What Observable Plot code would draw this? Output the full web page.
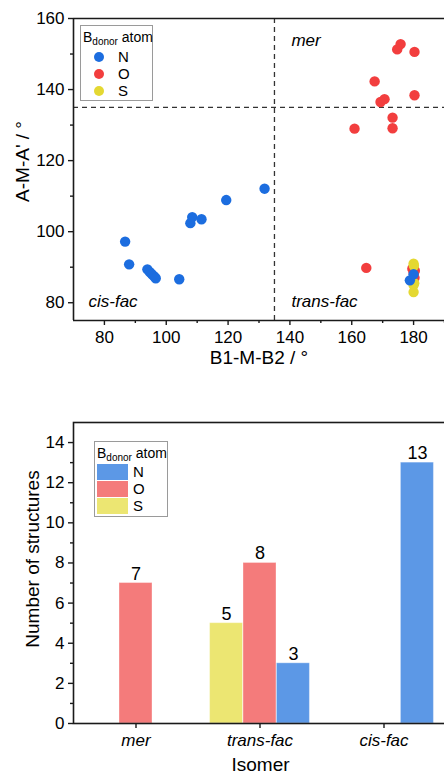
<!DOCTYPE html>
<html>
<head>
<meta charset="utf-8">
<script src="https://cdn.jsdelivr.net/npm/d3@7"></script>
<script src="https://cdn.jsdelivr.net/npm/@observablehq/plot@0.6"></script>
<style>
html, body { margin: 0; padding: 0; background: #fff; }
#wrap { position: relative; width: 444px; height: 775px; overflow: hidden; font-family: "Liberation Sans", Arial, sans-serif; color: #000; }
#wrap svg { display: block; }
.legend { position: absolute; border: 1px solid #9a9a9a; background: #fff; box-sizing: border-box; }
.legend .ttl { position: absolute; left: 2px; font-size: 14px; white-space: nowrap; line-height: 1; }
.legend .ttl sub { font-size: 10px; vertical-align: -3px; line-height: 0; }
.legend .row { position: absolute; font-size: 15px; line-height: 1; }
.legend .dot { position: absolute; width: 10px; height: 10px; border-radius: 50%; }
.legend .sw { position: absolute; }
</style>
</head>
<body>
<div id="wrap"></div>
<script>
// ---------- data ----------
const atoms = ["N", "O", "S"];
const scatterColors = ["#1c6ddf", "#f23e3e", "#e4d832"];
const barColors = ["#5c98e6", "#f47b7b", "#ece672"];

// scatter: B1-M-B2 (x) vs A-M-A' (y), per donor atom
const nX = [86.7, 88.0, 93.9, 94.7, 95.4, 96.1, 96.6, 104.2, 107.8, 108.4, 111.4, 119.4, 131.8, 178.8, 180.0];
const nY = [97.2, 90.8, 89.4, 88.6, 88.0, 87.4, 86.9, 86.6, 102.4, 104.1, 103.5, 108.9, 112.1, 86.3, 88.0];
const oX = [175.8, 174.7, 180.3, 167.4, 180.3, 170.6, 169.3, 173.2, 160.9, 173.2, 164.7, 179.6, 180.4, 180.3, 180.0];
const oY = [152.8, 151.3, 150.6, 142.3, 138.4, 137.3, 136.5, 132.1, 129.0, 129.1, 89.8, 89.6, 89.0, 87.0, 88.5];
const sX = [180.0, 180.1, 180.2, 180.0, 180.0];
const sY = [91.0, 90.4, 85.5, 85.0, 83.0];

const regionSplit = 135;
const regionLabels = ["mer", "trans-fac", "cis-fac"];
const xDomain = [70, 190];
const yDomain = [75, 160];
const xTicks = [80, 100, 120, 140, 160, 180];
const xMinor = [90, 110, 130, 150, 170, 190];
const yTicks = [80, 100, 120, 140, 160];
const yMinor = [90, 110, 130, 150];

// bars: number of structures per isomer and donor atom
const isomers = ["mer", "trans-fac", "cis-fac"];
const countN = [0, 3, 13];
const countO = [7, 8, 0];
const countS = [0, 5, 0];
const slotOrder = ["S", "O", "N"];
const countDomain = [0, 15];
const countTicks = [0, 2, 4, 6, 8, 10, 12, 14];
const countMinor = [1, 3, 5, 7, 9, 11, 13];

// ---------- build ----------
const FONT = '"Liberation Sans", Arial, sans-serif';
const AX = "#1a1a1a";
const wrap = document.getElementById("wrap");

const pts = [];
const series = {N: [nX, nY], O: [oX, oY], S: [sX, sY]};
for (const a of ["O", "S", "N"]) {
  const [xs, ys] = series[a];
  xs.forEach((v, i) => pts.push({atom: a, x: v, y: ys[i]}));
}
const colorOf = (list) => (a) => list[atoms.indexOf(a)];
const scCol = colorOf(scatterColors);
const barCol = colorOf(barColors);

const topPlot = Plot.plot({
  width: 444, height: 380,
  marginTop: 18, marginBottom: 60, marginLeft: 73, marginRight: 0,
  style: {fontFamily: FONT, fontSize: "17px", color: "#000", background: "#fff", overflow: "visible"},
  x: {domain: xDomain},
  y: {domain: yDomain},
  marks: [
    Plot.ruleX([regionSplit], {stroke: "#333", strokeWidth: 1.3, strokeDasharray: "5,4"}),
    Plot.ruleY([regionSplit], {stroke: "#333", strokeWidth: 1.3, strokeDasharray: "5,4"}),
    Plot.dot(pts, {x: "x", y: "y", r: 5.2, fill: d => scCol(d.atom), stroke: "none"}),
    Plot.text([regionLabels[0]], {x: () => regionSplit, frameAnchor: "top", dx: 17, dy: 22, text: d => d, textAnchor: "start", lineAnchor: "middle", fontStyle: "italic", fontSize: 17}),
    Plot.text([regionLabels[1]], {x: () => regionSplit, frameAnchor: "bottom", dx: 17, dy: -19, text: d => d, textAnchor: "start", lineAnchor: "middle", fontStyle: "italic", fontSize: 17}),
    Plot.text([regionLabels[2]], {frameAnchor: "bottom-left", dx: 15, dy: -19, text: d => d, textAnchor: "start", lineAnchor: "middle", fontStyle: "italic", fontSize: 17}),
    Plot.axisX(xTicks, {tickSize: 5, tickPadding: 5, strokeWidth: 1.4, stroke: AX, label: null}),
    Plot.axisX(xMinor, {tickSize: 3, strokeWidth: 1.4, stroke: AX, fill: "none", label: null}),
    Plot.axisY(yTicks, {tickSize: 5, tickPadding: 4, strokeWidth: 1.4, stroke: AX, label: null}),
    Plot.axisY(yMinor, {tickSize: 3, strokeWidth: 1.4, stroke: AX, fill: "none", label: null}),
    Plot.ruleY([yDomain[1]], {stroke: AX, strokeWidth: 1.6}),
    Plot.ruleY([yDomain[0]], {stroke: AX, strokeWidth: 1.6}),
    Plot.ruleX([xDomain[0]], {stroke: AX, strokeWidth: 1.6}),
    Plot.text(["B1-M-B2 / °"], {frameAnchor: "bottom", dy: 37, text: d => d, textAnchor: "middle", lineAnchor: "middle", fontSize: 19}),
    Plot.text(["A-M-A' / °"], {frameAnchor: "left", rotate: -90, dx: -51, dy: -8, text: d => d, textAnchor: "middle", lineAnchor: "middle", fontSize: 19, letterSpacing: "1.8px"})
  ]
});
wrap.appendChild(topPlot);

// bar rows
const rows = [];
isomers.forEach((iso, i) => {
  [["S", countS], ["O", countO], ["N", countN]].forEach(([a, arr]) => {
    if (arr[i] > 0) rows.push({isomer: iso, atom: a, count: arr[i]});
  });
});
const xRange = [73, 446], pIn = 0.732, pOut = 0.362;
const slot = (xRange[1] - xRange[0]) / (isomers.length - pIn + 2 * pOut) * (1 - pIn);
const offset = {S: -slot, O: 0, N: slot};

const barMarks = [];
for (const a of slotOrder) {
  const sub = rows.filter(d => d.atom === a);
  barMarks.push(Plot.barY(sub, {x: "isomer", y: "count", fill: barCol(a), dx: offset[a], stroke: "#ffffff", strokeOpacity: 0.35, strokeWidth: 1}));
  barMarks.push(Plot.text(sub, {x: "isomer", y: "count", text: d => String(d.count), dx: offset[a], dy: -3.5, lineAnchor: "bottom", fontSize: 18}));
}

const botPlot = Plot.plot({
  width: 444, height: 395,
  marginTop: 42, marginBottom: 52, marginLeft: 73, marginRight: -3,
  style: {fontFamily: FONT, fontSize: "17px", color: "#000", background: "#fff", overflow: "visible"},
  x: {domain: isomers, range: xRange, paddingInner: pIn, paddingOuter: pOut},
  y: {domain: countDomain},
  marks: [
    ...barMarks,
    Plot.axisX({tickSize: 5, tickPadding: 5, strokeWidth: 1.4, stroke: AX, fontStyle: "italic", label: null}),
    Plot.axisY(countTicks, {tickSize: 5, tickPadding: 4, strokeWidth: 1.4, stroke: AX, label: null}),
    Plot.axisY(countMinor, {tickSize: 3, strokeWidth: 1.4, stroke: AX, fill: "none", label: null}),
    Plot.frame({stroke: AX, strokeWidth: 1.6}),
    Plot.text(["Isomer"], {frameAnchor: "bottom", dy: 41, text: d => d, textAnchor: "middle", lineAnchor: "middle", fontSize: 19}),
    Plot.text(["Number of structures"], {frameAnchor: "left", rotate: -90, dx: -41, dy: -14, text: d => d, textAnchor: "middle", lineAnchor: "middle", fontSize: 19})
  ]
});
wrap.appendChild(botPlot);

// ---------- legends (HTML) ----------
function legend(opts) {
  const box = document.createElement("div");
  box.className = "legend";
  Object.assign(box.style, {left: opts.left + "px", top: opts.top + "px", width: opts.w + "px", height: opts.h + "px"});
  const t = document.createElement("div");
  t.className = "ttl";
  t.style.top = opts.titleTop + "px";
  t.innerHTML = "B<sub>donor</sub> atom";
  box.appendChild(t);
  atoms.forEach((a, i) => {
    if (opts.kind === "dot") {
      const d = document.createElement("div");
      d.className = "dot";
      Object.assign(d.style, {left: (opts.markX - 5) + "px", top: (opts.rowY[i] - 5) + "px", background: scatterColors[i]});
      box.appendChild(d);
    } else {
      const s = document.createElement("div");
      s.className = "sw";
      Object.assign(s.style, {left: opts.markX + "px", top: opts.swTop[i] + "px", width: "31px", height: opts.swH[i] + "px", background: barColors[i]});
      box.appendChild(s);
    }
    const l = document.createElement("div");
    l.className = "row";
    l.textContent = a;
    Object.assign(l.style, {left: opts.textX + "px", top: (opts.rowY[i] - 8) + "px", fontSize: opts.fs + "px"});
    box.appendChild(l);
  });
  wrap.appendChild(box);
}
legend({kind: "dot", left: 80, top: 25, w: 73, h: 76, titleTop: 4, markX: 18, textX: 37, rowY: [31, 48, 65], fs: 15});
legend({kind: "sw", left: 94, top: 441, w: 74, h: 76, titleTop: 4, markX: 2, swTop: [22, 39, 56], swH: [16, 16, 16], textX: 38, rowY: [30, 47, 64], fs: 15});
</script>
</body>
</html>
